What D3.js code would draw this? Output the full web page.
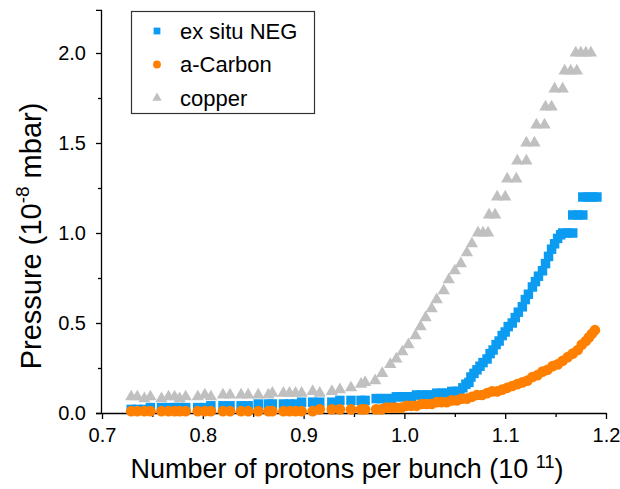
<!DOCTYPE html>
<html lang="en">
<head>
  <meta charset="UTF-8">
  <title>Pressure vs bunch intensity</title>
  <script src="https://d3js.org/d3.v7.min.js"></script>
  <style>
    body {
      margin: 0;
      background: #fff;
      font-family: 'Liberation Sans', Arial, sans-serif;
    }
    .axis path, .axis line {
      stroke: #000;
      stroke-width: 1.3px;
    }
    .axis text {
      font-family: 'Liberation Sans', Arial, sans-serif;
      font-size: 20px;
      fill: #000;
    }
    .title {
      font-size: 27px;
      fill: #000;
    }
    .ytitle {
      font-size: 29px;
    }
    .legend text {
      font-size: 22px;
      fill: #000;
    }
  </style>
</head>
<body>
  <svg width="620" height="489"></svg>

  <script>
    // intensities (10^11 p/bunch) shared by the three chambers below ~0.96
    const lowIntensity = [0.729, 0.735, 0.742, 0.748, 0.759, 0.766, 0.772, 0.777, 0.783, 0.795,
      0.802, 0.808, 0.820, 0.827, 0.838, 0.845, 0.855, 0.865, 0.869, 0.880,
      0.886, 0.892, 0.898, 0.909, 0.916, 0.928, 0.936, 0.947, 0.957, 0.961];

    // copper
    const copperHighX = [0.971, 0.978, 0.986, 0.992, 0.998, 1.004, 1.011, 1.016, 1.021, 1.027,
      1.032, 1.039, 1.044, 1.050, 1.056, 1.062, 1.067, 1.073, 1.078, 1.083,
      1.084, 1.090, 1.092, 1.100, 1.102, 1.111, 1.112, 1.121, 1.121, 1.129,
      1.131, 1.139, 1.140, 1.146, 1.149, 1.157, 1.159, 1.165, 1.171, 1.170,
      1.175, 1.180, 1.185];
    const copperP = [0.09, 0.09, 0.08, 0.09, 0.08, 0.09, 0.09, 0.08, 0.09, 0.09,
      0.10, 0.09, 0.10, 0.10, 0.10, 0.10, 0.10, 0.10, 0.11, 0.11,
      0.11, 0.11, 0.11, 0.12, 0.11, 0.12, 0.13, 0.14, 0.16, 0.17,
      0.18, 0.22, 0.27, 0.30, 0.34, 0.38, 0.43, 0.48, 0.53, 0.58,
      0.63, 0.68, 0.74, 0.79, 0.83, 0.89, 0.94, 1.0, 1.0, 1.0,
      1.1, 1.1, 1.2, 1.2, 1.3, 1.3, 1.4, 1.4, 1.5, 1.5,
      1.6, 1.6, 1.7, 1.7, 1.8, 1.8, 1.9, 1.9, 1.9, 2.0,
      2.0, 2.0, 2.0];

    // ex situ NEG
    const negHighX = [0.972, 0.977, 0.982, 0.987, 0.992, 0.997, 1.002, 1.007, 1.012, 1.017,
      1.022, 1.027, 1.032, 1.037, 1.042, 1.047, 1.052, 1.055, 1.058, 1.061,
      1.064, 1.066, 1.069, 1.072, 1.075, 1.078, 1.082, 1.085, 1.088, 1.091,
      1.094, 1.097, 1.100, 1.103, 1.107, 1.110, 1.113, 1.117, 1.120, 1.123,
      1.127, 1.130, 1.133, 1.137, 1.140, 1.143, 1.146, 1.149, 1.152, 1.155,
      1.157, 1.162, 1.167, 1.167, 1.172, 1.177, 1.177, 1.182, 1.187, 1.191];
    const negP = [0.02, 0.02, 0.02, 0.03, 0.03, 0.03, 0.03, 0.03, 0.03, 0.03,
      0.03, 0.04, 0.04, 0.04, 0.04, 0.04, 0.05, 0.05, 0.05, 0.05,
      0.05, 0.05, 0.06, 0.06, 0.06, 0.06, 0.07, 0.07, 0.07, 0.07,
      0.08, 0.08, 0.08, 0.08, 0.09, 0.09, 0.09, 0.09, 0.10, 0.10,
      0.10, 0.10, 0.11, 0.11, 0.11, 0.12, 0.12, 0.12, 0.14, 0.16,
      0.17, 0.20, 0.22, 0.24, 0.26, 0.28, 0.30, 0.33, 0.35, 0.38,
      0.40, 0.43, 0.45, 0.48, 0.50, 0.53, 0.56, 0.59, 0.63, 0.66,
      0.70, 0.73, 0.76, 0.79, 0.83, 0.87, 0.91, 0.94, 0.97, 0.99,
      1.0, 1.0, 1.0, 1.1, 1.1, 1.1, 1.2, 1.2, 1.2, 1.2];

    // a-Carbon
    const carbonHighX = [0.972, 0.977, 0.982, 0.987, 0.992, 0.997, 1.002, 1.007, 1.012, 1.017,
      1.022, 1.027, 1.032, 1.037, 1.042, 1.047, 1.052, 1.057, 1.062, 1.067,
      1.072, 1.077, 1.082, 1.087, 1.092, 1.097, 1.102, 1.107, 1.112, 1.117,
      1.122, 1.127, 1.132, 1.137, 1.142, 1.147, 1.152, 1.157, 1.162, 1.167,
      1.172, 1.176, 1.180, 1.183, 1.186, 1.189];
    const carbonP = [0.01, 0.01, 0.01, 0.01, 0.01, 0.01, 0.01, 0.01, 0.01, 0.01,
      0.01, 0.01, 0.01, 0.01, 0.01, 0.01, 0.01, 0.01, 0.01, 0.01,
      0.01, 0.01, 0.01, 0.01, 0.02, 0.02, 0.02, 0.02, 0.02, 0.02,
      0.02, 0.02, 0.03, 0.03, 0.03, 0.03, 0.04, 0.04, 0.04, 0.05,
      0.05, 0.05, 0.06, 0.06, 0.06, 0.07, 0.07, 0.08, 0.08, 0.09,
      0.10, 0.10, 0.11, 0.12, 0.12, 0.13, 0.14, 0.15, 0.16, 0.17,
      0.18, 0.20, 0.21, 0.23, 0.24, 0.26, 0.27, 0.29, 0.31, 0.33,
      0.35, 0.38, 0.40, 0.42, 0.44, 0.46];

    const seriesNames = ['ex situ NEG', 'a-Carbon', 'copper'];
    const seriesColors = ['#0b9cf2', '#ff8000', '#c0c0c0'];
    const xTicks = [0.7, 0.8, 0.9, 1.0, 1.1, 1.2];
    const yTicks = [0, 0.5, 1.0, 1.5, 2.0];

    let svg = d3.select('svg');

    let x = d3.scaleLinear().domain([0.7, 1.2]).range([102, 606]);
    let y = d3.scaleLinear().domain([0, 2.24]).range([413, 9.8]);

    function pts(xs, ys) {
      return xs.map((v, i) => ({ x: v, y: ys[i] }));
    }

    let series = [
      { name: seriesNames[2], color: seriesColors[2], shape: d3.symbolTriangle, size: 66,
        data: pts(lowIntensity.concat(copperHighX), copperP) },
      { name: seriesNames[0], color: seriesColors[0], shape: d3.symbolSquare, size: 90,
        data: pts(lowIntensity.concat(negHighX), negP) },
      { name: seriesNames[1], color: seriesColors[1], shape: d3.symbolCircle, size: 90,
        data: pts(lowIntensity.concat(carbonHighX), carbonP) }
    ];

    // axes
    svg.append('g')
      .attr('class', 'axis')
      .attr('transform', 'translate(0,413)')
      .call(d3.axisBottom(x).tickValues(xTicks).tickFormat(d3.format('.1f'))
        .tickSize(6).tickSizeOuter(0).tickPadding(9));
    svg.append('g')
      .attr('class', 'axis minor')
      .attr('transform', 'translate(0,413)')
      .call(d3.axisBottom(x).tickValues([0.75, 0.85, 0.95, 1.05, 1.15]).tickFormat('')
        .tickSize(4).tickSizeOuter(0))
      .select('.domain').remove();

    svg.append('g')
      .attr('class', 'axis')
      .attr('transform', 'translate(101,0)')
      .call(d3.axisLeft(y).tickValues(yTicks).tickFormat(d3.format('.1f'))
        .tickSize(5).tickSizeOuter(5).tickPadding(10));
    svg.append('g')
      .attr('class', 'axis minor')
      .attr('transform', 'translate(101,0)')
      .call(d3.axisLeft(y).tickValues([0.25, 0.75, 1.25, 1.75]).tickFormat('')
        .tickSize(3).tickSizeOuter(0))
      .select('.domain').remove();

    // points
    series.forEach(s => {
      svg.append('g')
        .selectAll('path')
        .data(s.data)
        .enter().append('path')
        .attr('d', d3.symbol().type(s.shape).size(s.size))
        .attr('transform', d => `translate(${x(d.x)},${y(d.y)})`)
        .attr('fill', s.color);
    });

    // axis titles
    let xt = svg.append('text')
      .attr('class', 'title')
      .attr('x', 347)
      .attr('y', 478)
      .attr('text-anchor', 'middle');
    xt.append('tspan').text('Number of protons per bunch (10 ');
    xt.append('tspan').attr('dy', -10).style('font-size', '18px').text('11');
    xt.append('tspan').attr('dy', 10).text(')');

    let yt = svg.append('text')
      .attr('class', 'title ytitle')
      .attr('text-anchor', 'middle')
      .attr('transform', 'translate(41,236) rotate(-90)');
    yt.append('tspan').text('Pressure (10');
    yt.append('tspan').attr('dy', -12).style('font-size', '19px').text('-8');
    yt.append('tspan').attr('dy', 12).text(' mbar)');

    // legend
    let legend = svg.append('g').attr('class', 'legend');
    legend.append('rect')
      .attr('x', 131.5).attr('y', 11.5)
      .attr('width', 183).attr('height', 102)
      .attr('fill', '#fff')
      .attr('stroke', '#333')
      .attr('stroke-width', 1.2);

    let legendItems = [
      { name: seriesNames[0], color: seriesColors[0], shape: d3.symbolSquare, size: 46 },
      { name: seriesNames[1], color: seriesColors[1], shape: d3.symbolCircle, size: 48 },
      { name: seriesNames[2], color: seriesColors[2], shape: d3.symbolTriangle, size: 38 }
    ];
    legendItems.forEach((d, i) => {
      let cy = 31 + i * 33.5;
      legend.append('path')
        .attr('d', d3.symbol().type(d.shape).size(d.size))
        .attr('transform', `translate(157,${cy})`)
        .attr('fill', d.color);
      legend.append('text')
        .attr('x', 180)
        .attr('y', cy + 7.5)
        .text(d.name);
    });
  </script>
</body>
</html>
